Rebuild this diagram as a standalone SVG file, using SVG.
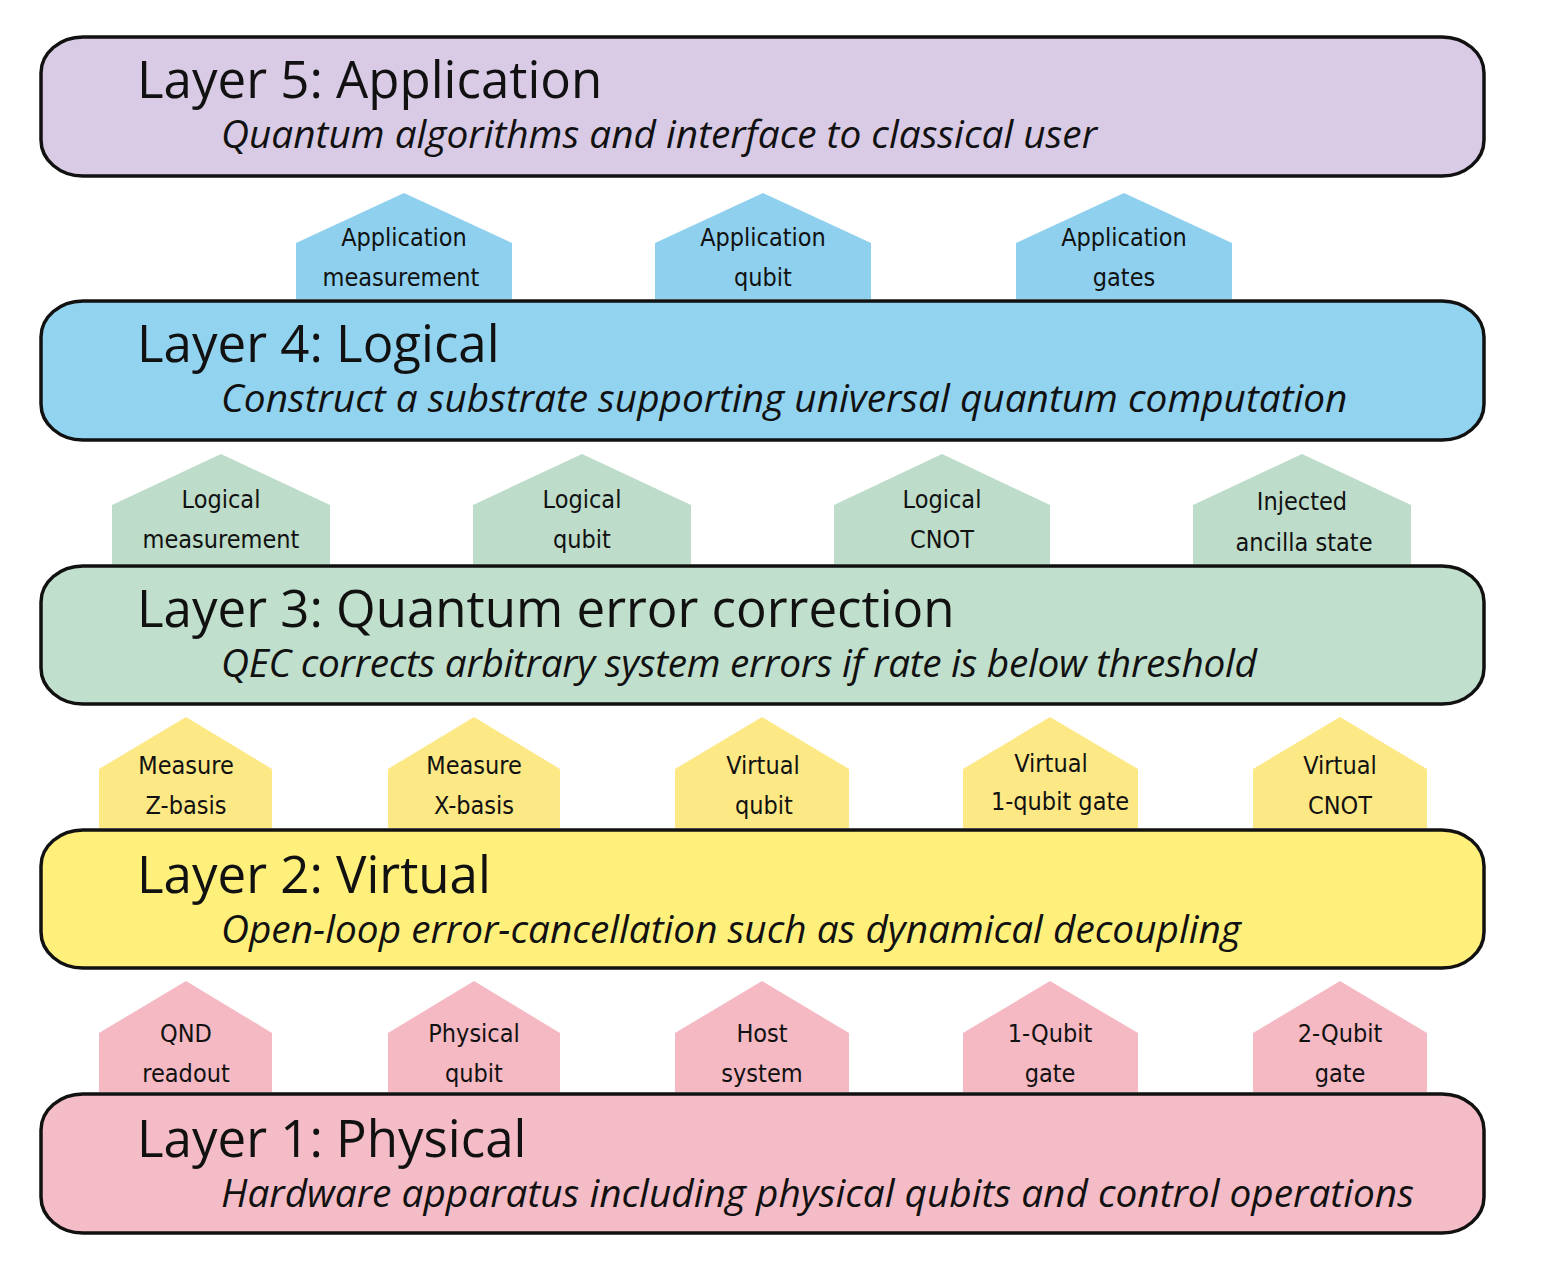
<svg xmlns="http://www.w3.org/2000/svg" width="1548" height="1272" viewBox="0 0 1548 1272">
<style>
.layer{stroke:#111;stroke-width:3.5}
.title{font-family:"Open Sans","Noto Sans",sans-serif;font-size:51px;fill:#111}
.sub{font-family:"Open Sans","Noto Sans",sans-serif;font-style:italic;font-size:38.8px;fill:#111}
.lbl{font-family:"DejaVu Sans Condensed","Liberation Sans Narrow",sans-serif;font-stretch:condensed;font-size:25px;fill:#111;text-anchor:middle}
.l5{fill:#d9cae5}.l4{fill:#92d3f0}.l3{fill:#c0dfcc}.l2{fill:#fff07c}.l1{fill:#f4bcc6}
.hb{fill:#8fd0ef}.hg{fill:#bddcc9}.hy{fill:#fde886}.hp{fill:#f5b9c3}
</style>
<rect width="1548" height="1272" fill="#fff"/>
<g id="connectors"/>
<g id="layer5"><rect class="layer l5" x="41" y="37" width="1443" height="139" rx="42" ry="36"/><text class="title" x="137" y="98">Layer 5: Application</text><text class="sub" x="221" y="148">Quantum algorithms and interface to classical user</text></g>
<g id="layer4"><rect class="layer l4" x="41" y="301" width="1443" height="139" rx="42" ry="36"/><text class="title" x="137" y="362">Layer 4: Logical</text><text class="sub" x="221" y="412">Construct a substrate supporting universal quantum computation</text></g>
<g id="layer3"><rect class="layer l3" x="41" y="566" width="1443" height="138" rx="42" ry="36"/><text class="title" x="137" y="627">Layer 3: Quantum error  correction</text><text class="sub" x="221" y="677" textLength="1036" lengthAdjust="spacing">QEC corrects arbitrary system errors if rate is below threshold</text></g>
<g id="layer2"><rect class="layer l2" x="41" y="830" width="1443" height="138" rx="42" ry="36"/><text class="title" x="137" y="893">Layer 2: Virtual</text><text class="sub" x="221" y="943">Open-loop error-cancellation such as dynamical decoupling</text></g>
<g id="layer1"><rect class="layer l1" x="41" y="1094" width="1443" height="139" rx="42" ry="36"/><text class="title" x="137" y="1157">Layer 1: Physical</text><text class="sub" x="221" y="1207">Hardware apparatus including physical qubits and control operations</text></g>

<g id="app-measurement"><polygon class="hb" points="296,299 296,243 404,193 512,243 512,299"/><text class="lbl" x="404" y="246">Application</text><text class="lbl" x="401" y="286">measurement</text></g>
<g id="app-qubit"><polygon class="hb" points="655,299 655,243 763,193 871,243 871,299"/><text class="lbl" x="763" y="246">Application</text><text class="lbl" x="763" y="286">qubit</text></g>
<g id="app-gates"><polygon class="hb" points="1016,299 1016,243 1124,193 1232,243 1232,299"/><text class="lbl" x="1124" y="246">Application</text><text class="lbl" x="1124" y="286">gates</text></g>

<g id="log-measurement"><polygon class="hg" points="112,564 112,505 221,454 330,505 330,564"/><text class="lbl" x="221" y="508">Logical</text><text class="lbl" x="221" y="548">measurement</text></g>
<g id="log-qubit"><polygon class="hg" points="473,564 473,505 582,454 691,505 691,564"/><text class="lbl" x="582" y="508">Logical</text><text class="lbl" x="582" y="548">qubit</text></g>
<g id="log-cnot"><polygon class="hg" points="834,564 834,505 942,454 1050,505 1050,564"/><text class="lbl" x="942" y="508">Logical</text><text class="lbl" x="942" y="548">CNOT</text></g>
<g id="injected"><polygon class="hg" points="1193,564 1193,505 1302,454 1411,505 1411,564"/><text class="lbl" x="1302" y="510">Injected</text><text class="lbl" x="1304" y="551">ancilla state</text></g>

<g id="meas-z"><polygon class="hy" points="99,828 99,769 186,717 272,769 272,828"/><text class="lbl" x="186" y="774">Measure</text><text class="lbl" x="186" y="814">Z-basis</text></g>
<g id="meas-x"><polygon class="hy" points="388,828 388,769 474,717 560,769 560,828"/><text class="lbl" x="474" y="774">Measure</text><text class="lbl" x="474" y="814">X-basis</text></g>
<g id="virt-qubit"><polygon class="hy" points="675,828 675,769 762,717 849,769 849,828"/><text class="lbl" x="763" y="774">Virtual</text><text class="lbl" x="764" y="814">qubit</text></g>
<g id="virt-1q"><polygon class="hy" points="963,828 963,769 1050,717 1138,769 1138,828"/><text class="lbl" x="1051" y="772">Virtual</text><text class="lbl" x="1060" y="810">1-qubit gate</text></g>
<g id="virt-cnot"><polygon class="hy" points="1253,828 1253,769 1340,717 1427,769 1427,828"/><text class="lbl" x="1340" y="774">Virtual</text><text class="lbl" x="1340" y="814">CNOT</text></g>

<g id="qnd"><polygon class="hp" points="99,1092 99,1033 186,981 272,1033 272,1092"/><text class="lbl" x="186" y="1042">QND</text><text class="lbl" x="186" y="1082">readout</text></g>
<g id="phys-qubit"><polygon class="hp" points="388,1092 388,1033 474,981 560,1033 560,1092"/><text class="lbl" x="474" y="1042">Physical</text><text class="lbl" x="474" y="1082">qubit</text></g>
<g id="host"><polygon class="hp" points="675,1092 675,1033 762,981 849,1033 849,1092"/><text class="lbl" x="762" y="1042">Host</text><text class="lbl" x="762" y="1082">system</text></g>
<g id="q1"><polygon class="hp" points="963,1092 963,1033 1050,981 1138,1033 1138,1092"/><text class="lbl" x="1050" y="1042">1-Qubit</text><text class="lbl" x="1050" y="1082">gate</text></g>
<g id="q2"><polygon class="hp" points="1253,1092 1253,1033 1340,981 1427,1033 1427,1092"/><text class="lbl" x="1340" y="1042">2-Qubit</text><text class="lbl" x="1340" y="1082">gate</text></g>
</svg>
